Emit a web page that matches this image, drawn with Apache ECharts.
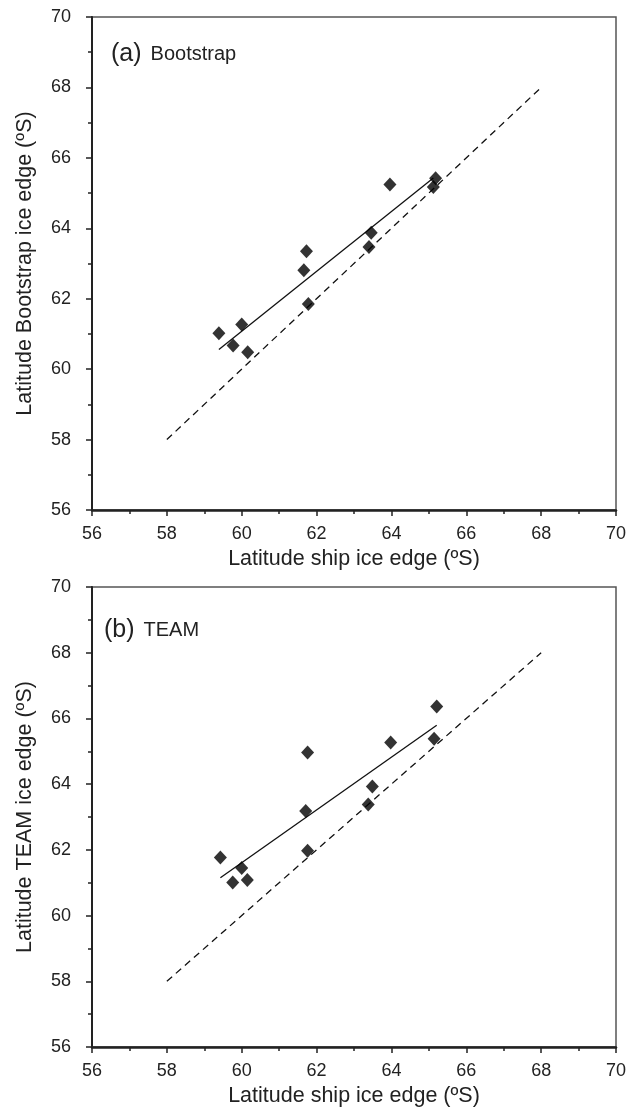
<!DOCTYPE html>
<html>
<head>
<meta charset="utf-8">
<script src="https://cdn.jsdelivr.net/npm/echarts@6/dist/echarts.min.js"></script>
<style>
  html, body { margin: 0; padding: 0; background: #fff; }
  #chart { width: 638px; height: 1109px; }
</style>
</head>
<body>
<div id="chart"></div>
<script>
// ship ice edge vs satellite ice edge, latitude in degrees south
const shipA = [59.39, 59.77, 60.00, 60.16, 61.66, 61.73, 61.78, 63.40, 63.46, 63.96, 65.12, 65.18];
const bootstrap = [61.02, 60.67, 61.27, 60.48, 62.81, 63.35, 61.85, 63.47, 63.87, 65.24, 65.17, 65.42];
const shipB = [59.43, 59.76, 60.00, 60.15, 61.71, 61.76, 61.76, 63.38, 63.49, 63.98, 65.14, 65.21];
const team = [61.77, 61.01, 61.45, 61.08, 63.18, 64.96, 61.97, 63.38, 63.93, 65.27, 65.38, 66.36];

// fitted lines (end points)
const fitA = [[59.39, 60.56], [65.12, 65.43]];
const fitB = [[59.43, 61.15], [65.21, 65.79]];
// 1:1 line
const oneToOne = [[58, 58], [68, 68]];

const panelTitles = [['(a)', 'Bootstrap'], ['(b)', 'TEAM']];
const xTitle = 'Latitude ship ice edge (ºS)';
const yTitles = ['Latitude Bootstrap ice edge (ºS)', 'Latitude TEAM ice edge (ºS)'];

const chart = echarts.init(document.getElementById('chart'));
const font = 'Liberation Sans, Arial, sans-serif';
const ink = '#222';

function makeAxis(gridIndex, name, isX) {
  return {
    type: 'value',
    gridIndex: gridIndex,
    min: 56,
    max: 70,
    interval: 2,
    name: name,
    nameLocation: 'middle',
    nameGap: isX ? 38 : 56,
    nameTextStyle: { fontFamily: font, fontSize: 21.5, color: ink },
    axisLine: { show: true, onZero: false, lineStyle: { color: ink, width: isX ? 2.5 : 2 } },
    axisTick: { show: true, length: 6, lineStyle: { color: ink, width: 1.5 } },
    minorTick: { show: true, splitNumber: 2, length: 4, lineStyle: { color: ink, width: 1.5 } },
    axisLabel: { fontFamily: font, fontSize: 18, color: ink, margin: isX ? 15 : 21 },
    splitLine: { show: false }
  };
}

function scatter(i, xs, ys) {
  return {
    type: 'scatter',
    xAxisIndex: i,
    yAxisIndex: i,
    symbol: 'diamond',
    symbolSize: [13, 14],
    itemStyle: { color: '#000' },
    data: xs.map((x, k) => [x, ys[k]]),
    z: 5
  };
}

function line(i, data, dashed) {
  return {
    type: 'line',
    xAxisIndex: i,
    yAxisIndex: i,
    symbol: 'none',
    lineStyle: { color: '#111', width: 1.3, type: dashed ? [7, 5] : 'solid' },
    data: data,
    silent: true
  };
}

const option = {
  animation: false,
  backgroundColor: '#fff',
  title: panelTitles.map((t, i) => ({
    text: '{p|' + t[0] + '}{n|' + t[1] + '}',
    left: i === 0 ? 111 : 104,
    top: i === 0 ? 42 : 618,
    padding: 0,
    textStyle: {
      rich: {
        p: { fontFamily: font, fontSize: 25, fontWeight: 'normal', color: ink },
        n: { fontFamily: font, fontSize: 20, fontWeight: 'normal', color: ink, padding: [0, 0, 0, 9] }
      }
    }
  })),
  grid: [
    { left: 92, top: 17, width: 524, height: 493, show: true, borderColor: '#555', borderWidth: 1.5 },
    { left: 92, top: 587, width: 524, height: 460, show: true, borderColor: '#555', borderWidth: 1.5 }
  ],
  xAxis: [makeAxis(0, xTitle, true), makeAxis(1, xTitle, true)],
  yAxis: [makeAxis(0, yTitles[0], false), makeAxis(1, yTitles[1], false)],
  series: [
    line(0, oneToOne, true),
    line(0, fitA, false),
    scatter(0, shipA, bootstrap),
    line(1, oneToOne, true),
    line(1, fitB, false),
    scatter(1, shipB, team)
  ]
};

chart.setOption(option);
</script>
</body>
</html>
